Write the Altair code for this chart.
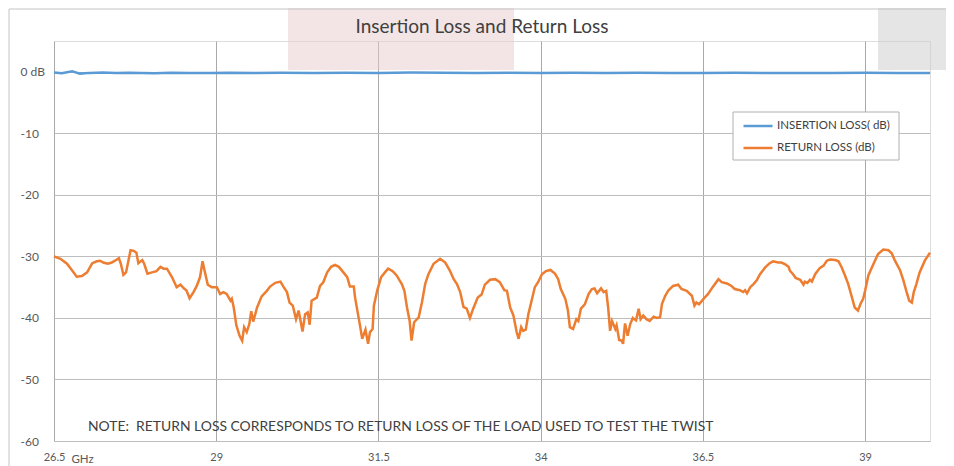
import altair as alt
import pandas as pd

# ---------------- data ----------------
series_names = ["INSERTION LOSS( dB)", "RETURN LOSS (dB)"]
series_colors = ["#5b9bd5", "#ed7d31"]

il_freq = [26.5, 26.62, 26.78, 26.9, 27.05, 27.25, 27.45, 27.65, 27.85, 28.05, 28.3,
           28.6, 28.9, 29.2, 29.6, 30.0, 30.5, 31.0, 31.5, 32.0, 32.5, 33.0, 33.5,
           34.0, 34.5, 35.0, 35.5, 36.0, 36.5, 37.0, 37.5, 38.0, 38.5, 39.0, 39.5, 40.0]
il_db = [-0.1, -0.25, 0.08, -0.3, -0.18, -0.12, -0.22, -0.14, -0.2, -0.26, -0.16,
         -0.22, -0.2, -0.16, -0.2, -0.15, -0.2, -0.14, -0.18, -0.12, -0.17, -0.2, -0.14,
         -0.18, -0.15, -0.2, -0.15, -0.18, -0.2, -0.16, -0.2, -0.18, -0.2, -0.17, -0.2, -0.22]

rl_freq = [26.50, 26.60, 26.70, 26.78, 26.85, 26.93, 27.01, 27.09, 27.16, 27.21, 27.26,
           27.33, 27.39, 27.44, 27.50, 27.53, 27.57, 27.61, 27.68, 27.73, 27.77, 27.80,
           27.86, 27.89, 27.94, 28.01, 28.08, 28.14, 28.19, 28.24, 28.32, 28.39, 28.45,
           28.50, 28.54, 28.59, 28.65, 28.70, 28.75, 28.79, 28.82, 28.87, 28.93, 29.01,
           29.06, 29.11, 29.16, 29.22, 29.24, 29.27, 29.31, 29.36, 29.40, 29.43, 29.47,
           29.51, 29.54, 29.57, 29.63, 29.70, 29.78, 29.83, 29.91, 29.99, 30.04, 30.09,
           30.13, 30.18, 30.23, 30.27, 30.33, 30.37, 30.41, 30.44, 30.47, 30.55, 30.60,
           30.65, 30.71, 30.77, 30.83, 30.89, 30.96, 31.02, 31.06, 31.12, 31.14, 31.18,
           31.22, 31.25, 31.30, 31.34, 31.37, 31.41, 31.43, 31.48, 31.54, 31.60, 31.65,
           31.72, 31.78, 31.86, 31.90, 31.94, 31.98, 32.01, 32.05, 32.12, 32.17, 32.22,
           32.27, 32.35, 32.45, 32.53, 32.60, 32.66, 32.71, 32.76, 32.81, 32.86, 32.91,
           32.96, 33.03, 33.09, 33.14, 33.22, 33.30, 33.37, 33.44, 33.48, 33.53, 33.58,
           33.63, 33.66, 33.70, 33.73, 33.77, 33.81, 33.86, 33.91, 33.96, 34.02, 34.08,
           34.15, 34.22, 34.27, 34.31, 34.38, 34.42, 34.45, 34.50, 34.55, 34.58, 34.62,
           34.68, 34.74, 34.79, 34.83, 34.87, 34.93, 34.97, 35.01, 35.04, 35.07, 35.10,
           35.15, 35.17, 35.21, 35.25, 35.27, 35.30, 35.34, 35.38, 35.42, 35.47, 35.51,
           35.54, 35.58, 35.63, 35.68, 35.74, 35.79, 35.84, 35.87, 35.92, 35.97, 36.04,
           36.12, 36.17, 36.25, 36.33, 36.37, 36.40, 36.44, 36.51, 36.58, 36.65, 36.74,
           36.79, 36.87, 36.94, 36.99, 37.07, 37.12, 37.15, 37.18, 37.23, 37.28, 37.33,
           37.38, 37.46, 37.53, 37.58, 37.66, 37.71, 37.77, 37.82, 37.84, 37.89, 37.93,
           38.00, 38.05, 38.07, 38.11, 38.15, 38.18, 38.23, 38.30, 38.36, 38.41, 38.46,
           38.54, 38.59, 38.64, 38.69, 38.74, 38.79, 38.84, 38.89, 38.93, 38.97, 39.00,
           39.05, 39.13, 39.20, 39.28, 39.36, 39.41, 39.46, 39.54, 39.59, 39.64, 39.68,
           39.72, 39.75, 39.79, 39.84, 39.92, 40.00]
rl_db = [-30.0, -30.4, -31.2, -32.3, -33.3, -33.2, -32.6, -31.1, -30.8, -30.7, -31.0,
         -31.2, -31.0, -30.7, -30.3, -31.2, -33.0, -32.6, -29.0, -29.1, -29.4, -31.1,
         -30.6, -31.2, -32.8, -32.6, -32.4, -31.7, -32.0, -32.0, -33.4, -35.0, -34.6,
         -35.2, -35.5, -36.8, -35.8, -34.8, -33.4, -30.8, -32.3, -34.6, -35.0, -35.0,
         -36.1, -35.8, -36.1, -37.2, -36.9, -38.3, -41.2, -42.9, -43.7, -41.5, -42.3,
         -41.0, -38.9, -40.6, -38.3, -36.5, -35.6, -34.9, -34.3, -34.1, -35.0, -35.8,
         -37.5, -38.0, -40.2, -38.8, -42.2, -39.4, -39.1, -41.1, -37.2, -36.7, -34.8,
         -34.2, -32.6, -31.7, -31.4, -31.7, -32.6, -33.4, -34.9, -34.9, -36.7, -39.1,
         -41.5, -43.4, -41.9, -44.2, -42.3, -41.8, -38.0, -35.6, -33.4, -32.6, -32.0,
         -32.4, -33.1, -34.5, -35.6, -38.3, -40.4, -43.7, -40.7, -39.9, -37.5, -34.5,
         -32.9, -31.2, -30.4, -31.0, -32.3, -33.7, -34.5, -35.8, -38.2, -38.5, -40.0,
         -38.5, -36.7, -36.2, -34.6, -33.8, -33.7, -34.2, -35.5, -35.6, -38.3, -39.6,
         -42.3, -43.4, -41.5, -42.1, -41.9, -39.4, -37.2, -35.0, -34.2, -32.9, -32.4,
         -32.2, -32.8, -33.7, -35.3, -36.9, -38.8, -41.5, -41.8, -40.2, -40.5, -38.5,
         -37.8, -36.1, -35.3, -35.2, -36.0, -35.2, -35.8, -35.6, -38.3, -42.1, -40.5,
         -41.8, -41.2, -43.6, -43.7, -44.2, -40.9, -42.9, -41.0, -40.0, -40.4, -38.5,
         -40.2, -39.6, -40.2, -40.5, -39.8, -40.0, -39.9, -37.7, -36.4, -35.5, -34.8,
         -34.6, -35.3, -35.6, -36.4, -38.0, -37.5, -37.8, -36.9, -36.1, -35.0, -33.7,
         -34.2, -34.4, -34.8, -35.3, -35.5, -35.8, -35.5, -36.0, -35.0, -34.5, -33.9,
         -32.9, -31.8, -31.1, -30.8, -31.0, -31.0, -31.3, -31.7, -32.3, -32.9, -33.5,
         -33.8, -34.6, -34.1, -34.3, -33.8, -34.1, -32.9, -31.9, -31.5, -30.7, -30.5,
         -30.6, -30.8, -31.8, -33.1, -34.5, -36.4, -38.3, -38.8, -37.7, -36.9, -35.6,
         -33.1, -31.2, -29.6, -28.9, -29.0, -29.5, -30.7, -32.3, -33.9, -35.8, -37.2,
         -37.5, -35.8, -34.5, -32.6, -30.7, -29.4]

x_ticks = [26.5, 29, 31.5, 34, 36.5, 39]
y_ticks = [-60, -50, -40, -30, -20, -10, 0]
x_domain = [26.5, 40]
y_domain = [-60, 5]
title_text = ["Insertion Loss and Return Loss"]
unit_text = "GHz"
note_text = ["NOTE:\u00a0 RETURN LOSS CORRESPONDS TO RETURN LOSS OF THE LOAD USED TO TEST THE TWIST"]

# ---------------- chart ----------------
FONT = "Lato"
df = pd.concat([
    pd.DataFrame({"f": il_freq, "db": il_db, "series": series_names[0]}),
    pd.DataFrame({"f": rl_freq, "db": rl_db, "series": series_names[1]}),
], ignore_index=True)

one = pd.DataFrame({"k": [0]})

pink = alt.Chart(one).mark_rect(fill="#e8cccc", opacity=0.5).encode(
    x=alt.value(234), x2=alt.value(460), y=alt.value(-33), y2=alt.value(29))
grey = alt.Chart(one).mark_rect(fill="#cccccc", opacity=0.5).encode(
    x=alt.value(824), x2=alt.value(892), y=alt.value(-33), y2=alt.value(29))
frame_top = alt.Chart(one).mark_rule(color="#c4c4c4", strokeWidth=1).encode(
    x=alt.value(-45), x2=alt.value(892), y=alt.value(-32))
frame_left = alt.Chart(one).mark_rule(color="#c4c4c4", strokeWidth=1).encode(
    x=alt.value(-45), y=alt.value(-32), y2=alt.value(430))

title = alt.Chart(pd.DataFrame({"t": title_text})).mark_text(
    align="center", baseline="middle", font="Lato", fontSize=19, color="#404040"
).encode(x=alt.value(428), y=alt.value(-14), text="t:N")

lines = alt.Chart(df).mark_line(strokeWidth=2.5).encode(
    x=alt.X("f:Q", scale=alt.Scale(domain=x_domain, nice=False, zero=False),
            axis=alt.Axis(values=x_ticks, title=unit_text, grid=True, gridColor="#a9a9a9",
                          gridWidth=1, domain=False, ticks=False, labelFont=FONT,
                          labelFontSize=11, labelColor="#595959", labelPadding=10,
                          labelFlush=False, labelOverlap=False,
                          labelExpr="'' + datum.value",
                          titleFont=FONT, titleFontSize=11.5, titleFontWeight="normal",
                          titleColor="#595959", titleX=28, titleY=18, titleAlign="center",
                          titleBaseline="middle")),
    y=alt.Y("db:Q", scale=alt.Scale(domain=y_domain, nice=False, zero=False),
            axis=alt.Axis(values=y_ticks, title=None, grid=True, gridColor="#bdbdbd",
                          gridWidth=1, domain=False, ticks=False, labelFont=FONT,
                          labelFontSize=12, labelColor="#595959", labelPadding=34,
                          labelAlign="left", labelBaseline="middle",
                          labelExpr="datum.value == 0 ? '0 dB' : '' + datum.value")),
    color=alt.Color("series:N",
                    scale=alt.Scale(domain=series_names, range=series_colors),
                    legend=alt.Legend(title=None, orient="none", legendX=688, legendY=69,
                                      direction="vertical", symbolType="stroke",
                                      symbolSize=841, symbolStrokeWidth=2.5,
                                      labelFont=FONT, labelFontSize=11.5, labelColor="#404040",
                                      labelOffset=3, labelLimit=400, padding=0,
                                      rowPadding=-5)),
)

legend_box = alt.Chart(one).mark_rect(fill="white", stroke="#b0b0b0", strokeWidth=1).encode(
    x=alt.value(679), x2=alt.value(845), y=alt.value(71), y2=alt.value(119))

note = alt.Chart(pd.DataFrame({"note": note_text})).mark_text(
    align="left", baseline="middle", font=FONT, fontSize=13.9, color="#404040"
).encode(x=alt.value(34), y=alt.value(386), text="note:N")

chart = alt.layer(pink, grey, frame_top, frame_left, title, lines, legend_box, note).properties(
    width=876, height=400,
    padding={"left": 46, "top": 33, "right": 16, "bottom": 25},
    autosize=alt.AutoSizeParams(type="none"),
).configure_view(stroke="#a6a6a6", strokeWidth=1).configure(background="white")

chart.save("out.html", embed_options={"renderer": "svg", "actions": False})
